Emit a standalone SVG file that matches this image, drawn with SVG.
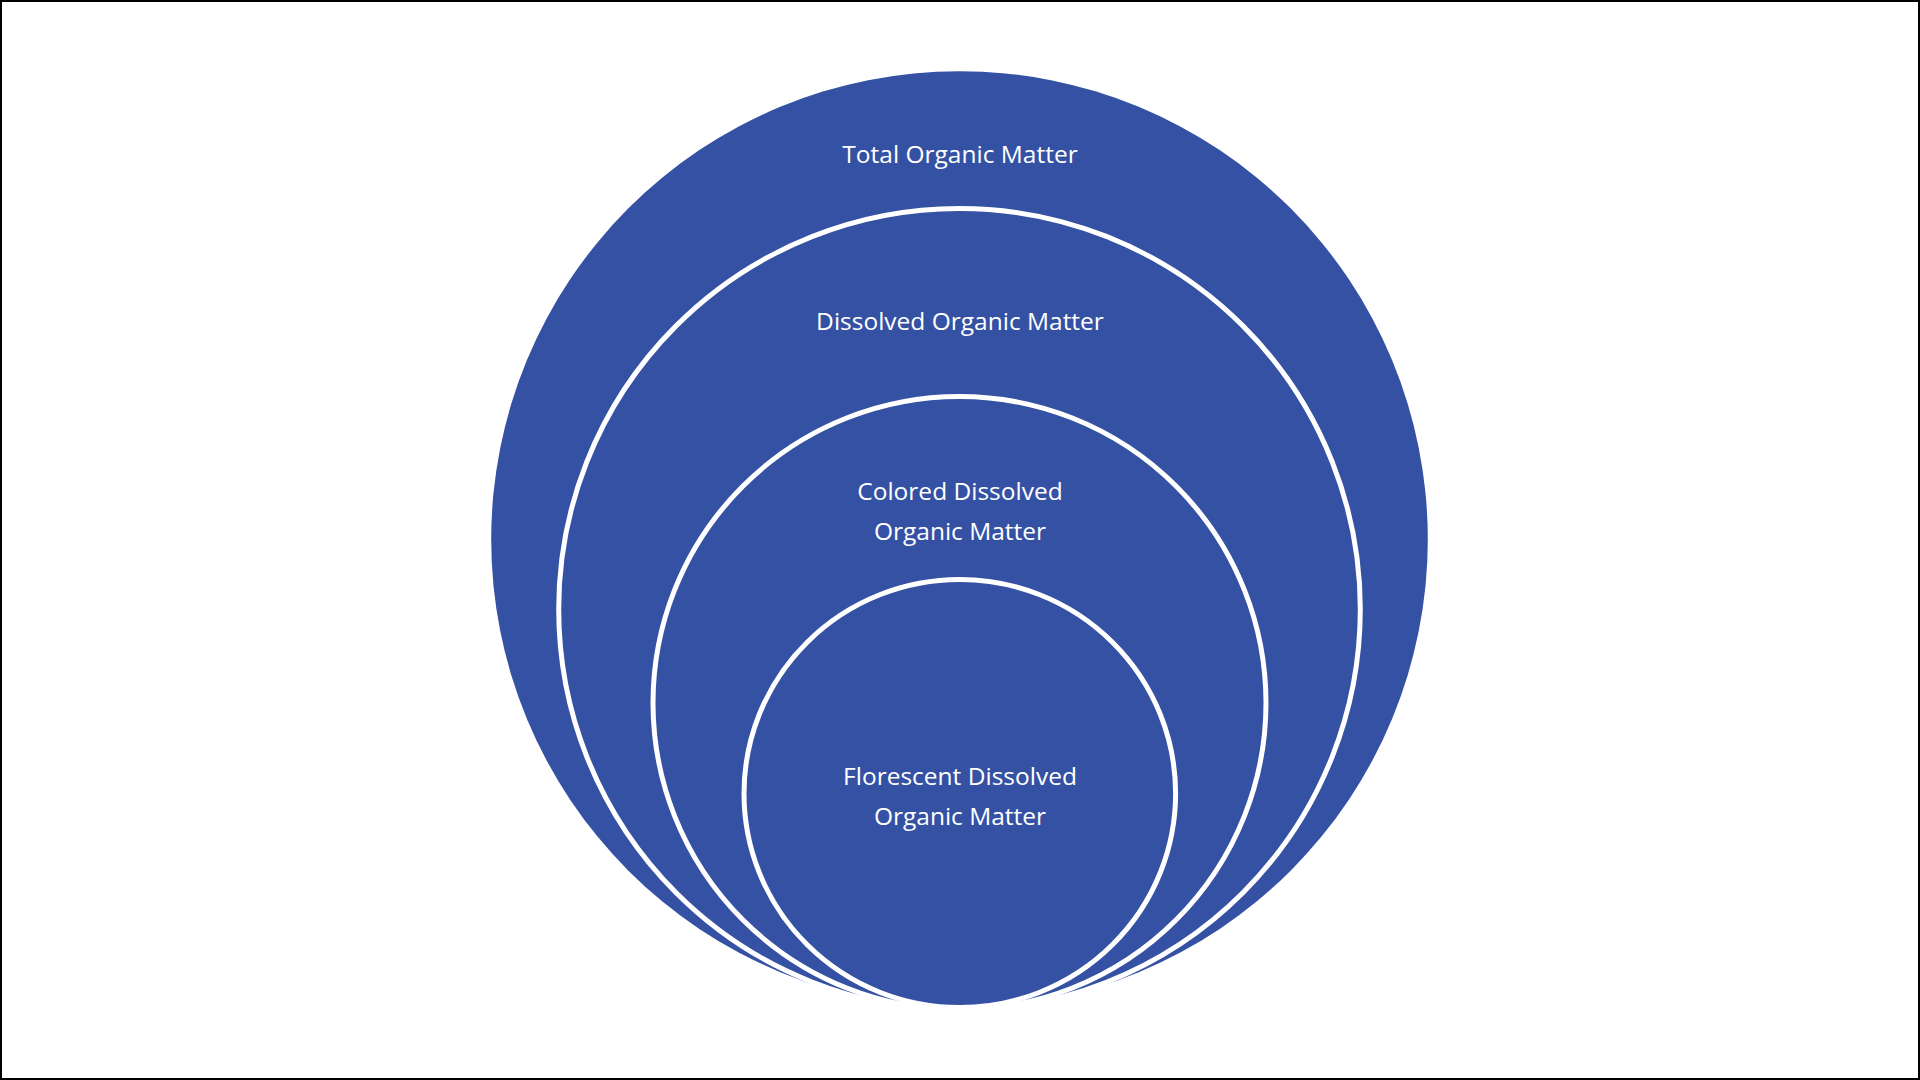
<svg xmlns="http://www.w3.org/2000/svg" width="1920" height="1080" viewBox="0 0 1920 1080">
  <style>
    .disc { fill: #3451A3; stroke: #FFFFFF; stroke-width: 5; }
    .outer { fill: #3451A3; stroke: none; }
    .lbl { font-family: "Open Sans", "Noto Sans", "Liberation Sans", sans-serif; font-size: 24.5px; fill: #FFFFFF; text-anchor: middle; }
  </style>
  <rect x="1" y="1" width="1918" height="1078" fill="#FFFFFF" stroke="#000000" stroke-width="2"/>
  <g id="connectors"></g>
  <g id="node-total">
    <circle class="outer" cx="959.5" cy="539.5" r="468.3"/>
    <text class="lbl" x="960" y="163">Total Organic Matter</text>
  </g>
  <g id="node-dissolved">
    <circle class="disc" cx="959.5" cy="609.3" r="400.8"/>
    <text class="lbl" x="960" y="330">Dissolved Organic Matter</text>
  </g>
  <g id="node-colored">
    <circle class="disc" cx="959.5" cy="703" r="306.5"/>
    <text class="lbl" x="960" y="500">Colored Dissolved</text>
    <text class="lbl" x="960" y="540">Organic Matter</text>
  </g>
  <g id="node-florescent">
    <ellipse class="disc" cx="959.8" cy="793.5" rx="215.8" ry="214"/>
    <text class="lbl" x="960" y="785">Florescent Dissolved</text>
    <text class="lbl" x="960" y="825">Organic Matter</text>
  </g>
</svg>
